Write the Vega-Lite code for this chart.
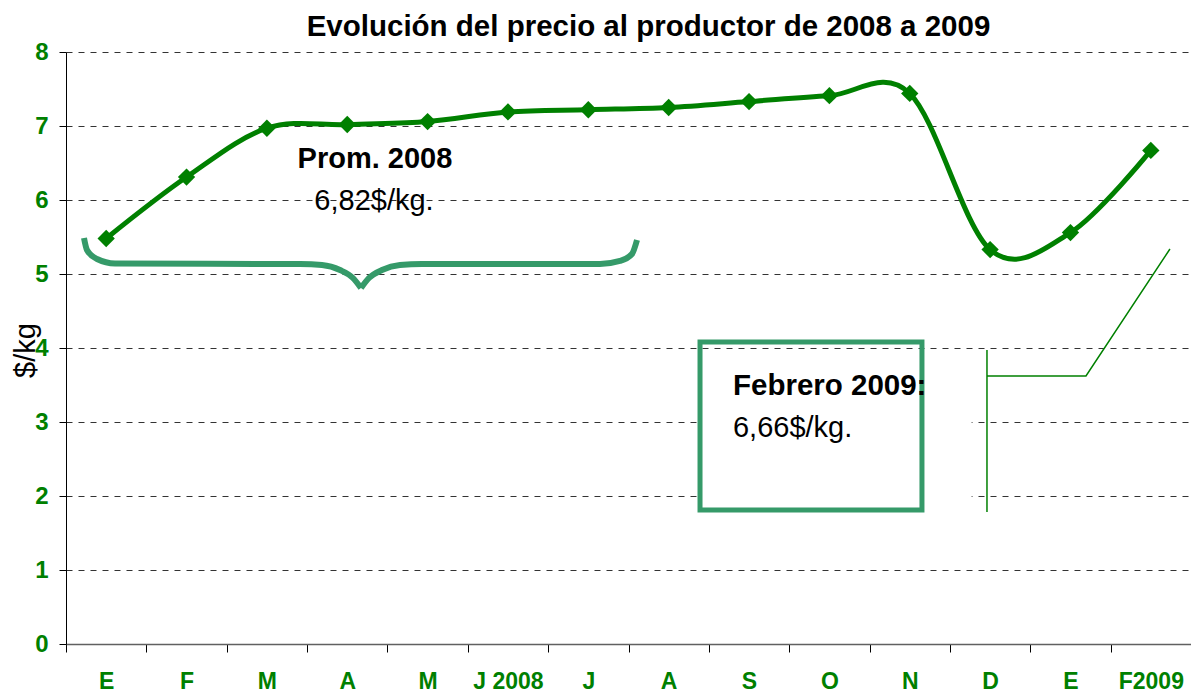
{
  "$schema": "https://vega.github.io/schema/vega-lite/v6.json",
  "width": 1125,
  "height": 592,
  "autosize": {"type": "none"},
  "padding": {"left": 66, "top": 52, "right": 0, "bottom": 51},
  "background": "white",
  "config": {
    "view": {"stroke": null},
    "font": "Liberation Sans",
    "axisY": {
      "grid": true,
      "gridDash": [6, 6],
      "gridColor": "#333333",
      "gridWidth": 1,
      "tickSize": 7,
      "tickColor": "#000000",
      "domainColor": "#000000",
      "labelPadding": 11,
      "labelFont": "Liberation Sans",
      "labelFontSize": 24,
      "labelFontWeight": "bold",
      "labelColor": "#008000",
      "titleFont": "Liberation Sans",
      "titleFontSize": 29,
      "titleFontWeight": "normal",
      "titleColor": "#000000",
      "titleX": -32,
      "titleY": 298,
      "titleAngle": 270,
      "titleBaseline": "alphabetic",
      "titleAlign": "center"
    }
  },
  "title": {
    "text": "Evolución del precio al productor de 2008 a 2009",
    "font": "Liberation Sans",
    "fontSize": 29.5,
    "fontWeight": "bold",
    "color": "#000000",
    "anchor": "middle",
    "frame": "group",
    "dx": 20,
    "dy": 30,
    "baseline": "alphabetic",
    "offset": 5
  },
  "datasets": {
    "precios": [
      {"i": 0, "mes": "E", "v": 5.48},
      {"i": 1, "mes": "F", "v": 6.31},
      {"i": 2, "mes": "M", "v": 6.97},
      {"i": 3, "mes": "A", "v": 7.02},
      {"i": 4, "mes": "M", "v": 7.06},
      {"i": 5, "mes": "J 2008", "v": 7.19},
      {"i": 6, "mes": "J", "v": 7.22},
      {"i": 7, "mes": "A", "v": 7.25},
      {"i": 8, "mes": "S", "v": 7.33},
      {"i": 9, "mes": "O", "v": 7.41},
      {"i": 10, "mes": "N", "v": 7.44},
      {"i": 11, "mes": "D", "v": 5.33},
      {"i": 12, "mes": "E", "v": 5.56},
      {"i": 13, "mes": "F2009", "v": 6.67}
    ],
    "llave": [
      {"lado": "izq", "ax": 0.224, "v": 5.486},
      {"lado": "izq", "ax": 0.261, "v": 5.324},
      {"lado": "izq", "ax": 0.386, "v": 5.203},
      {"lado": "izq", "ax": 0.61, "v": 5.142},
      {"lado": "izq", "ax": 2.912, "v": 5.135},
      {"lado": "izq", "ax": 3.186, "v": 5.122},
      {"lado": "izq", "ax": 3.41, "v": 5.054},
      {"lado": "izq", "ax": 3.571, "v": 4.946},
      {"lado": "izq", "ax": 3.671, "v": 4.811},
      {"lado": "der", "ax": 3.671, "v": 4.811},
      {"lado": "der", "ax": 3.77, "v": 4.946},
      {"lado": "der", "ax": 3.932, "v": 5.054},
      {"lado": "der", "ax": 4.156, "v": 5.122},
      {"lado": "der", "ax": 4.43, "v": 5.135},
      {"lado": "der", "ax": 6.645, "v": 5.135},
      {"lado": "der", "ax": 6.894, "v": 5.176},
      {"lado": "der", "ax": 7.043, "v": 5.27},
      {"lado": "der", "ax": 7.106, "v": 5.459}
    ],
    "conector": [
      {"seg": "v", "o": 1, "ax": 11.461, "v": 3.973},
      {"seg": "v", "o": 2, "ax": 11.461, "v": 1.784},
      {"seg": "h", "o": 1, "ax": 11.461, "v": 3.622},
      {"seg": "h", "o": 2, "ax": 12.693, "v": 3.622},
      {"seg": "h", "o": 3, "ax": 13.738, "v": 5.338}
    ],
    "caja": [{"ax": 7.89, "ax2": 10.652, "v": 4.081, "v2": 1.811}],
    "fondo": [{"ax": 7.89, "ax2": 11.27, "v": 3.95, "v2": 1.76}],
    "prom_t": [{"ax": 3.845, "v": 6.432, "t": "Prom. 2008"}],
    "prom_v": [{"ax": 3.833, "v": 5.865, "t": "6,82$/kg."}],
    "feb_t": [{"ax": 8.3, "v": 3.365, "t": "Febrero 2009:"}],
    "feb_v": [{"ax": 8.3, "v": 2.797, "t": "6,66$/kg."}]
  },
  "layer": [
    {
      "layer": [
        {
          "data": {"name": "fondo"},
          "mark": {"type": "rect", "fill": "white", "stroke": null},
          "encoding": {
            "x": {"field": "ax", "type": "quantitative", "scale": {"domain": [0, 14], "nice": false, "zero": false}, "axis": null},
            "x2": {"field": "ax2"},
            "y": {"field": "v", "type": "quantitative", "scale": {"domain": [0, 8], "nice": false}, "title": "$/kg", "axis": {"values": [0, 1, 2, 3, 4, 5, 6, 7, 8], "format": "d"}},
            "y2": {"field": "v2"}
          }
        },
        {
          "data": {"name": "caja"},
          "mark": {"type": "rect", "fill": "white", "fillOpacity": 0, "stroke": "#359a69", "strokeWidth": 5},
          "encoding": {
            "x": {"field": "ax", "type": "quantitative", "scale": {"domain": [0, 14], "nice": false, "zero": false}, "axis": null},
            "x2": {"field": "ax2"},
            "y": {"field": "v", "type": "quantitative", "scale": {"domain": [0, 8], "nice": false}, "title": "$/kg", "axis": {"values": [0, 1, 2, 3, 4, 5, 6, 7, 8], "format": "d"}},
            "y2": {"field": "v2"}
          }
        },
        {
          "data": {"name": "llave"},
          "mark": {"type": "line", "interpolate": "monotone", "color": "#359a69", "strokeWidth": 6},
          "encoding": {
            "x": {"field": "ax", "type": "quantitative", "scale": {"domain": [0, 14], "nice": false, "zero": false}, "axis": null},
            "y": {"field": "v", "type": "quantitative", "scale": {"domain": [0, 8], "nice": false}, "title": "$/kg", "axis": {"values": [0, 1, 2, 3, 4, 5, 6, 7, 8], "format": "d"}},
            "detail": {"field": "lado"}
          }
        },
        {
          "data": {"name": "conector"},
          "mark": {"type": "line", "interpolate": "linear", "color": "#008000", "strokeWidth": 1.5},
          "encoding": {
            "x": {"field": "ax", "type": "quantitative", "scale": {"domain": [0, 14], "nice": false, "zero": false}, "axis": null},
            "y": {"field": "v", "type": "quantitative", "scale": {"domain": [0, 8], "nice": false}, "title": "$/kg", "axis": {"values": [0, 1, 2, 3, 4, 5, 6, 7, 8], "format": "d"}},
            "detail": {"field": "seg"},
            "order": {"field": "o"}
          }
        }
      ]
    },
    {
      "data": {"name": "precios"},
      "layer": [
        {
          "mark": {"type": "line", "interpolate": "cardinal", "color": "#008000", "strokeWidth": 5},
          "encoding": {
            "x": {
              "field": "i",
              "type": "ordinal",
              "bandPosition": 0.5,
              "scale": {"type": "band", "paddingInner": 0, "paddingOuter": 0},
              "axis": {
                "title": null,
                "labelExpr": "['E','F','M','A','M','J 2008','J','A','S','O','N','D','E','F2009'][datum.value]",
                "labelAngle": 0,
                "labelFont": "Liberation Sans",
                "labelFontSize": 23,
                "labelFontWeight": "bold",
                "labelColor": "#008000",
                "labelBaseline": "top",
                "labelPadding": 18,
                "tickSize": 8,
                "tickColor": "#000000",
                "tickBand": "extent",
                "domainColor": "#606060",
                "domainWidth": 1.5,
                "grid": false
              }
            },
            "y": {"field": "v", "type": "quantitative", "scale": {"domain": [0, 8], "nice": false}, "title": "$/kg", "axis": {"values": [0, 1, 2, 3, 4, 5, 6, 7, 8], "format": "d"}}
          }
        },
        {
          "mark": {"type": "point", "shape": "diamond", "filled": true, "size": 300, "color": "#008000", "opacity": 1},
          "encoding": {
            "x": {"field": "i", "type": "ordinal", "bandPosition": 0.5, "scale": {"type": "band", "paddingInner": 0, "paddingOuter": 0}},
            "y": {"field": "v", "type": "quantitative", "scale": {"domain": [0, 8], "nice": false}, "title": "$/kg", "axis": {"values": [0, 1, 2, 3, 4, 5, 6, 7, 8], "format": "d"}}
          }
        }
      ]
    },
    {
      "layer": [
        {
          "data": {"name": "prom_t"},
          "mark": {"type": "text", "font": "Liberation Sans", "fontSize": 29, "fontWeight": "bold", "color": "#000000", "align": "center", "baseline": "alphabetic"},
          "encoding": {
            "x": {"field": "ax", "type": "quantitative", "scale": {"domain": [0, 14], "nice": false, "zero": false}, "axis": null},
            "y": {"field": "v", "type": "quantitative", "scale": {"domain": [0, 8], "nice": false}, "title": "$/kg", "axis": {"values": [0, 1, 2, 3, 4, 5, 6, 7, 8], "format": "d"}},
            "text": {"field": "t"}
          }
        },
        {
          "data": {"name": "prom_v"},
          "mark": {"type": "text", "font": "Liberation Sans", "fontSize": 29, "fontWeight": "normal", "color": "#000000", "align": "center", "baseline": "alphabetic"},
          "encoding": {
            "x": {"field": "ax", "type": "quantitative", "scale": {"domain": [0, 14], "nice": false, "zero": false}, "axis": null},
            "y": {"field": "v", "type": "quantitative", "scale": {"domain": [0, 8], "nice": false}, "title": "$/kg", "axis": {"values": [0, 1, 2, 3, 4, 5, 6, 7, 8], "format": "d"}},
            "text": {"field": "t"}
          }
        },
        {
          "data": {"name": "feb_t"},
          "mark": {"type": "text", "font": "Liberation Sans", "fontSize": 29.5, "fontWeight": "bold", "color": "#000000", "align": "left", "baseline": "alphabetic"},
          "encoding": {
            "x": {"field": "ax", "type": "quantitative", "scale": {"domain": [0, 14], "nice": false, "zero": false}, "axis": null},
            "y": {"field": "v", "type": "quantitative", "scale": {"domain": [0, 8], "nice": false}, "title": "$/kg", "axis": {"values": [0, 1, 2, 3, 4, 5, 6, 7, 8], "format": "d"}},
            "text": {"field": "t"}
          }
        },
        {
          "data": {"name": "feb_v"},
          "mark": {"type": "text", "font": "Liberation Sans", "fontSize": 29, "fontWeight": "normal", "color": "#000000", "align": "left", "baseline": "alphabetic"},
          "encoding": {
            "x": {"field": "ax", "type": "quantitative", "scale": {"domain": [0, 14], "nice": false, "zero": false}, "axis": null},
            "y": {"field": "v", "type": "quantitative", "scale": {"domain": [0, 8], "nice": false}, "title": "$/kg", "axis": {"values": [0, 1, 2, 3, 4, 5, 6, 7, 8], "format": "d"}},
            "text": {"field": "t"}
          }
        }
      ]
    }
  ],
  "resolve": {"scale": {"x": "independent"}}
}
